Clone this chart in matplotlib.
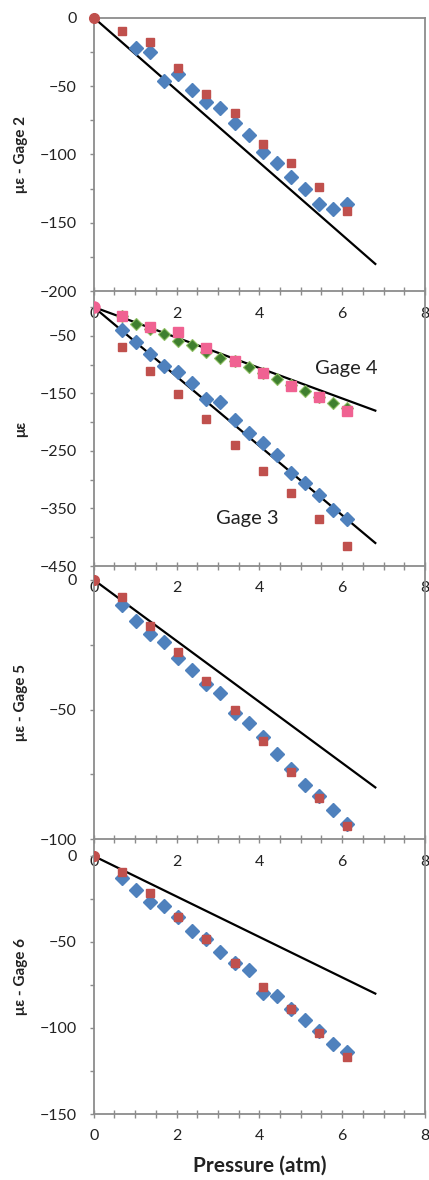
import matplotlib
matplotlib.use('Agg')
import matplotlib.pyplot as plt
from matplotlib.ticker import MultipleLocator

plt.rcParams['font.family'] = ['Lato', 'DejaVu Sans']

# pressure steps (atm)
p_fine = [0.68, 1.02, 1.36, 1.70, 2.04, 2.38, 2.72, 3.06, 3.40, 3.74,
          4.08, 4.42, 4.76, 5.10, 5.44, 5.78, 6.12]
p_fine2 = [1.02, 1.36, 1.70, 2.04, 2.38, 2.72, 3.06, 3.40, 3.74,
           4.08, 4.42, 4.76, 5.10, 5.44, 5.78, 6.12]
p_coarse = [0.68, 1.36, 2.04, 2.72, 3.40, 4.08, 4.76, 5.44, 6.12]
p_origin = [0.0]
e_origin = [0.0]
p_theory = [0.0, 6.8]

# Gage 2
g2_blue = [-22, -25.4, -46, -41.2, -53.2, -62, -65.9, -76.8, -85.9, -98.5,
           -106.6, -116.6, -124.9, -135.9, -140, -136.3]
g2_red = [-9.8, -18, -37, -55.6, -70, -92.4, -106.6, -123.9, -141.2]
g2_theory = [0, -180]

# Gage 3 / Gage 4
g3_blue = [-39.6, -60, -82, -101.9, -113.2, -132.3, -159.6, -164.2, -196.1,
           -218.1, -236.7, -257, -287.7, -306.2, -326.5, -352.6, -368.3]
g3_red = [-69.8, -111, -151.4, -194.9, -239, -284.2, -322.5, -368.3, -414.6]
g3_theory = [0, -410]
g4_green = [-16.4, -29.8, -37.8, -47.1, -58.7, -66.8, -78.4, -87.7, -94.6,
            -104.5, -114.9, -124.8, -135.2, -145.6, -156.7, -166, -175.8]
g4_pink = [-16.4, -35.5, -43.6, -71.4, -94.6, -113.8, -136.4, -155.5, -180]
g4_theory = [0, -180]

# Gage 5
g5_blue = [-9.8, -15.9, -20.9, -23.9, -30.3, -34.8, -40, -43.8, -51.3, -55,
           -60.5, -67, -73, -79.2, -83.5, -88.8, -94]
g5_red = [-6.8, -17.9, -28, -39, -50.3, -62.1, -73.9, -84, -94.9]
g5_theory = [0, -80]

# Gage 6
g6_blue = [-12.6, -19.8, -26.9, -29.1, -35.7, -43.4, -48.3, -56, -62.4, -66.3,
           -79.8, -81.4, -89.1, -95.3, -101.6, -109.3, -114.1]
g6_red = [-9.5, -21.7, -35.7, -48.3, -62.4, -76, -89.1, -102.7, -117]
g6_theory = [0, -80]

BLUE = '#4F81BD'
RED = '#C0504D'
GREEN = '#3F7F2F'
PINK = '#F06292'
GRAY = '#8C8C8C'
TXT = '#222222'

W, H = 429, 1180
fig = plt.figure(figsize=(W / 100, H / 100), dpi=100)


def make_axes(top, bottom):
    left, right = 93.7, 425
    return fig.add_axes([left / W, 1 - bottom / H, (right - left) / W, (bottom - top) / H],
                        facecolor='none')


def style(ax, ylim, major, minor, ylabel, show_top=False):
    ax.set_xlim(0, 8)
    ax.set_ylim(*ylim)
    ax.xaxis.set_major_locator(MultipleLocator(2))
    ax.xaxis.set_minor_locator(MultipleLocator(0.5))
    ax.set_yticks(major)
    ax.set_yticks(minor, minor=True)
    ax.tick_params(axis='x', which='both', direction='inout', length=6, width=1,
                   color=GRAY, labelsize=11.5, pad=8, labelcolor=TXT)
    ax.tick_params(axis='y', which='both', direction='out', length=3, width=1,
                   color=GRAY, labelsize=11.5, pad=9, labelcolor=TXT)
    for s in ['left', 'bottom', 'right', 'top']:
        ax.spines[s].set_color(GRAY)
        ax.spines[s].set_linewidth(1.3)
    ax.spines['top'].set_visible(show_top)
    ax.set_ylabel(ylabel, fontsize=11, fontweight='bold', color=TXT)
    ax.yaxis.set_label_coords(-0.198, 0.5)


# Gage 2
ax1 = make_axes(17.6, 291.3)
ax1.plot(p_theory, g2_theory, color='black', lw=1.6, zorder=2)
ax1.plot(p_fine2, g2_blue, 'D', color=BLUE, ms=7, zorder=3)
ax1.plot(p_coarse, g2_red, 's', color=RED, ms=5.5, zorder=4)
ax1.plot(p_origin, e_origin, 'o', color=RED, ms=7, zorder=5, clip_on=False)
style(ax1, (-200, 0), [0, -50, -100, -150, -200], [-25, -75, -125, -175],
      'με - Gage 2', show_top=True)

# Gage 3 and Gage 4
ax2 = make_axes(291.5, 566)
ax2.plot(p_theory, g3_theory, color='black', lw=1.6, zorder=2)
ax2.plot(p_theory, g4_theory, color='black', lw=1.6, zorder=2)
ax2.plot(p_fine, g3_blue, 'D', color=BLUE, ms=7, zorder=3)
ax2.plot(p_coarse, g3_red, 's', color=RED, ms=5.5, zorder=4)
ax2.plot(p_fine, g4_green, 'D', color=GREEN, mec='#8DBF62', mew=0.8, ms=6.5, zorder=3)
ax2.plot(p_coarse, g4_pink, 's', color=PINK, ms=6.5, zorder=4)
ax2.plot(p_origin, e_origin, 'o', color=PINK, ms=8, zorder=5)
ax2.text(6.1, -106, 'Gage 4', fontsize=14.5, ha='center', va='center', color=TXT)
ax2.text(3.7, -367, 'Gage 3', fontsize=14.5, ha='center', va='center', color=TXT)
style(ax2, (-450, 27), [-450, -350, -250, -150, -50], [-400, -300, -200, -100, 0], 'με')

# Gage 5
ax3 = make_axes(566, 839.3)
ax3.plot(p_theory, g5_theory, color='black', lw=1.6, zorder=2)
ax3.plot(p_fine, g5_blue, 'D', color=BLUE, ms=7, zorder=3)
ax3.plot(p_coarse, g5_red, 's', color=RED, ms=5.5, zorder=4)
ax3.plot(p_origin, e_origin, 'o', color=RED, ms=7, zorder=5)
style(ax3, (-100, 5.3), [0, -50, -100], [-25, -75], 'με - Gage 5')

# Gage 6
ax4 = make_axes(839.3, 1114)
ax4.plot(p_theory, g6_theory, color='black', lw=1.6, zorder=2)
ax4.plot(p_fine, g6_blue, 'D', color=BLUE, ms=7, zorder=3)
ax4.plot(p_coarse, g6_red, 's', color=RED, ms=5.5, zorder=4)
ax4.plot(p_origin, e_origin, 'o', color=RED, ms=7, zorder=5)
style(ax4, (-150, 9.7), [0, -50, -100, -150], [-25, -75, -125], 'με - Gage 6')
ax4.set_xlabel('Pressure (atm)', fontsize=15, fontweight='bold', color=TXT,
               labelpad=9)

fig.savefig('out.png', dpi=100)
